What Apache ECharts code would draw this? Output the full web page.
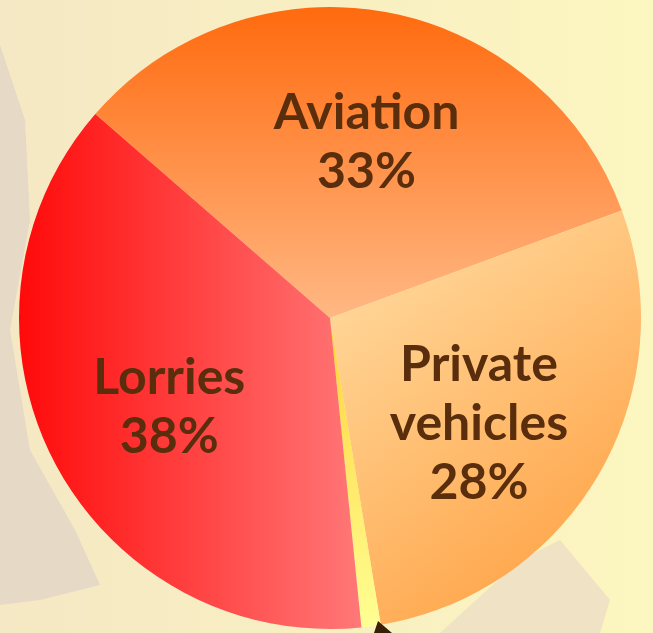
<!DOCTYPE html>
<html>
<head>
<meta charset="utf-8">
<script src="https://cdn.jsdelivr.net/npm/echarts@6/dist/echarts.min.js"></script>
<style>
  html, body { margin: 0; padding: 0; background: #f8eec4; }
  #chart { width: 653px; height: 633px; }
</style>
</head>
<body>
<div id="chart"></div>
<script>
// slice names and shares (%), clockwise from the Lorries/Aviation boundary
var categories = ["Aviation", "Private\nvehicles", "Other", "Lorries"];
var shares = [33, 28, 1, 38];
var showLabel = [true, true, false, true];

// fill gradients: [x, y, x2, y2, startColour, endColour]
var fills = [
  [0, 0, 0, 1, "#ff6a0e", "#ffb884"],
  [0, 0, 1, 1, "#ffe0a8", "#ff9a38"],
  [0, 0, 0, 1, "#ffd23a", "#ffff94"],
  [0, 0, 1, 0, "#ff0a0a", "#ff7878"]
];
// nudge of each label from the default inside position
var labelShift = [[8, -20], [12, 26], [0, 0], [-20, 16]];

var myChart = echarts.init(document.getElementById("chart"));

var data = categories.map(function (name, i) {
  var f = fills[i];
  return {
    name: name,
    value: shares[i],
    itemStyle: {
      color: new echarts.graphic.LinearGradient(f[0], f[1], f[2], f[3], [
        { offset: 0, color: f[4] },
        { offset: 1, color: f[5] }
      ])
    },
    label: { show: showLabel[i] }
  };
});

var option = {
  backgroundColor: new echarts.graphic.LinearGradient(0, 0, 1, 0, [
    { offset: 0, color: "#f5e8c4" },
    { offset: 1, color: "#fcf6c0" }
  ]),
  // faded map shapes behind the pie, and the pointer at the bottom
  graphic: [
    {
      type: "polygon", z: -1,
      shape: { points: [[0, 45], [25, 120], [30, 220], [10, 330], [30, 450], [75, 530], [100, 585], [40, 600], [0, 605]] },
      style: { fill: "#e6d9c6" }
    },
    {
      type: "polygon", z: -1,
      shape: { points: [[440, 633], [520, 560], [560, 540], [610, 600], [600, 633]] },
      style: { fill: "#f0e2c4" }
    },
    {
      type: "polygon", z: 10,
      shape: { points: [[378, 621], [392, 633], [374, 633]] },
      style: { fill: "#3a1e06" }
    }
  ],
  series: [
    {
      type: "pie",
      center: [330, 318],
      radius: [0, 311],
      startAngle: 139,
      clockwise: true,
      animation: false,
      silent: true,
      data: data,
      label: {
        position: "inside",
        formatter: function (p) {
          return p.name + "\n" + p.value + "%";
        },
        color: "#5a2e0c",
        fontFamily: "Lato",
        fontWeight: "bold",
        fontSize: 50,
        lineHeight: 59,
        align: "center"
      },
      labelLine: { show: false },
      labelLayout: function (params) {
        var s = labelShift[params.dataIndex];
        return { dx: s[0], dy: s[1] };
      }
    }
  ]
};

myChart.setOption(option);
</script>
</body>
</html>
